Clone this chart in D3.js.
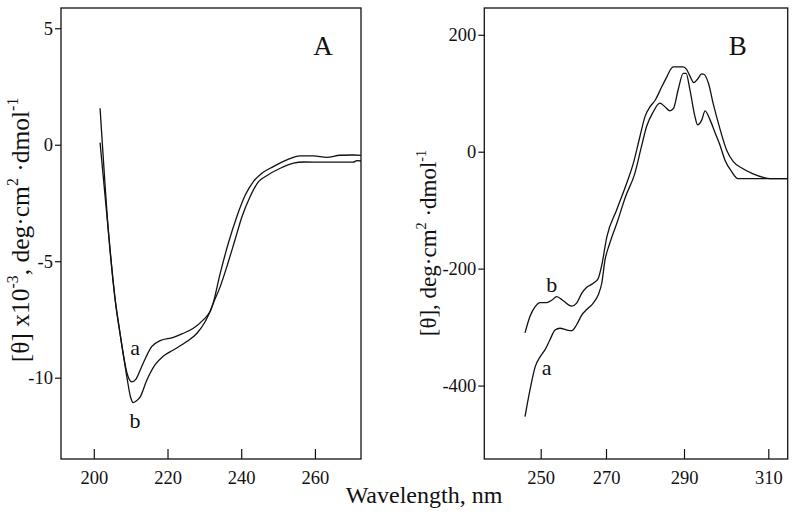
<!DOCTYPE html>
<html>
<head>
<meta charset="utf-8">
<script src="https://cdn.jsdelivr.net/npm/d3@7"></script>
<style>
body { margin: 0; background: #fff; }
svg { font-family: "Liberation Serif", "Times New Roman", serif; }
</style>
</head>
<body>
<svg id="chart" width="800" height="517"></svg>
<script>
// panel A (far UV), [θ] x10^-3
var wlA_a = [201.7, 204.0, 205.8, 207.1, 208.0, 209.0, 210.3, 211.5, 212.6, 214.2, 215.7, 218.0, 221.6, 223.9, 227.0, 229.7, 231.6, 232.3,
             234.3, 236.1, 238.3, 240.2, 242.4, 244.7, 246.7, 250.6, 254.2, 256.9, 262.3, 270.4, 271.4, 272.6];
var thA_a  = [0.09, -3.79, -6.66, -8.08, -9.0, -9.8, -10.18, -10.05, -9.67, -9.1, -8.67, -8.41, -8.27, -8.12, -7.88, -7.52, -7.14, -6.85,
             -6.09, -5.23, -4.09, -3.09, -2.23, -1.58, -1.35, -1.01, -0.79, -0.74, -0.75, -0.75, -0.68, -0.70];
var wlA_b = [201.7, 202.3, 204.0, 205.8, 207.1, 208.0, 209.0, 210.0, 210.7, 211.5, 212.6, 214.4, 216.6, 218.9, 221.6, 225.2, 228.0, 230.2, 232.3,
             234.3, 236.5, 238.8, 241.1, 243.3, 245.6, 248.7, 252.4, 256.0, 259.6, 263.2, 266.8, 270.4, 272.6];
var thA_b  = [1.57, 0.09, -3.79, -6.66, -8.08, -9.0, -10.0, -10.85, -11.07, -11.0, -10.82, -10.1, -9.45, -9.07, -8.81, -8.45, -8.09, -7.6, -6.85,
             -5.52, -4.23, -3.09, -2.16, -1.58, -1.22, -0.94, -0.65, -0.48, -0.48, -0.54, -0.45, -0.44, -0.46];
var ticksA_x = [200, 220, 240, 260];
var ticksA_y = [-10, -5, 0, 5];

// panel B (near UV), [θ]
var wlB_a = [245.2, 246.7, 248.3, 249.8, 251.3, 252.8, 254.4, 255.9, 258.0, 259.5, 261.0, 262.6, 264.1, 266.1, 267.6, 268.7, 269.7, 270.8,
             273.0, 275.0, 277.4, 279.1, 280.4, 282.1, 283.8, 285.1, 286.4, 287.3, 288.5, 289.8, 290.5, 291.4, 292.6, 293.2, 294.2, 295.0,
             296.2, 297.4, 298.5, 299.7, 301.3, 302.8, 307.2, 315];
var thB_a  = [-453, -408, -368, -351, -339, -322, -305, -302, -305, -306, -296, -279, -270, -259, -245, -225, -185, -160,
             -118, -77, -37, 9, 43, 68, 83, 77, 70, 74, 106, 134, 134, 106, 60, 46, 54, 70,
             54, 32, 12, -14, -34, -46, -46, -46];
var wlB_b = [245.2, 246.7, 248.3, 249.8, 251.8, 253.4, 254.9, 256.9, 259.5, 261.0, 262.6, 264.1, 266.1, 267.6, 268.7, 270.2,
             272.7, 275.3, 277.0, 278.7, 280.0, 281.3, 282.6, 284.3, 285.6, 286.8, 287.3, 289.8, 290.6, 291.5, 292.3, 293.2, 294.2, 294.8,
             295.8, 297.0, 298.5, 300.1, 301.7, 303.7, 306.4, 308.8, 310.4, 315];
var thB_b  = [-310, -282, -265, -258, -258, -254, -248, -255, -264, -259, -242, -232, -225, -217, -194, -146,
             -100, -54, -20, 26, 60, 77, 88, 111, 128, 143, 145, 145, 141, 128, 118, 124, 133, 132,
             117, 80, 40, 3, -17, -28, -38, -44, -46, -46];
var ticksB_x = [250, 270, 290, 310];
var ticksB_y = [-400, -200, 0, 200];

var svg = d3.select("#chart");
svg.append("rect").attr("width", 800).attr("height", 517).attr("fill", "#fff");

function zip(xs, ys) { return xs.map(function(x, i) { return [x, ys[i]]; }); }

function drawPanel(p) {
    var g = svg.append("g").attr("transform", "translate(" + p.left + "," + p.top + ")");
    var w = p.width, h = p.height;

    g.append("clipPath").attr("id", "clip" + p.name)
        .append("rect").attr("width", w).attr("height", h);

    // x axis, ticks pointing inward
    var xAx = g.append("g")
        .attr("transform", "translate(0," + h + ")")
        .call(d3.axisBottom(p.x).tickValues(p.ticksX).tickSize(-10).tickPadding(12).tickSizeOuter(0));
    // y axis, ticks outward
    var yAx = g.append("g")
        .call(d3.axisLeft(p.y).tickValues(p.ticksY).tickSize(6).tickPadding(2).tickSizeOuter(0)
            .tickFormat(function(d) { return String(d).replace("−", "-"); }));
    [xAx, yAx].forEach(function(ax) {
        ax.select(".domain").remove();
        ax.selectAll("line").attr("stroke", "#111").attr("stroke-width", 1.2);
        ax.selectAll("text").attr("font-size", 18.5).attr("fill", "#111")
            .attr("font-family", "Liberation Serif, Times New Roman, serif");
    });

    g.append("rect").attr("width", w).attr("height", h)
        .attr("fill", "none").attr("stroke", "#111").attr("stroke-width", 1.3);

    var line = d3.line()
        .x(function(d) { return p.x(d[0]); })
        .y(function(d) { return p.y(d[1]); })
        .curve(d3.curveMonotoneX);
    var curves = g.append("g").attr("clip-path", "url(#clip" + p.name + ")");
    p.series.forEach(function(s) {
        curves.append("path").datum(s)
            .attr("d", line)
            .attr("fill", "none").attr("stroke", "#111").attr("stroke-width", 1.3);
    });

    p.labels.forEach(function(l) {
        g.append("text").attr("x", p.x(l.x)).attr("y", p.y(l.y))
            .attr("text-anchor", "middle").attr("font-size", 22).attr("fill", "#111")
            .text(l.t);
    });

    g.append("text").attr("x", p.letterX).attr("y", 47)
        .attr("text-anchor", "middle").attr("font-size", 27).attr("fill", "#111")
        .text(p.name);
    return g;
}

var xA = d3.scaleLinear().domain([191.1, 272.5]).range([0, 300]);
var yA = d3.scaleLinear().domain([-13.49, 5.87]).range([451, 0]);
drawPanel({
    name: "A", left: 61, top: 8, width: 300, height: 451,
    x: xA, y: yA, ticksX: ticksA_x, ticksY: ticksA_y,
    series: [zip(wlA_a, thA_a), zip(wlA_b, thA_b)],
    labels: [{x: 211.2, y: -9.02, t: "a"}, {x: 211.2, y: -12.17, t: "b"}],
    letterX: 262
});

// the printed B axis is not evenly spaced, so the scale follows its tick marks
var xB = d3.scaleLinear().domain(ticksB_x).range([56.4, 121.7, 199.7, 284.0]);
var yB = d3.scaleLinear().domain([-525.6, 245.8]).range([451, 0]);
drawPanel({
    name: "B", left: 484.3, top: 8, width: 303.4, height: 451,
    x: xB, y: yB, ticksX: ticksB_x, ticksY: ticksB_y,
    series: [zip(wlB_a, thB_a), zip(wlB_b, thB_b)],
    labels: [{x: 253.4, y: -239.4, t: "b"}, {x: 251.8, y: -381.9, t: "a"}],
    letterX: 253.4
});

// axis titles
function yTitle(x, y, size, parts) {
    var t = svg.append("text")
        .attr("transform", "translate(" + x + "," + y + ") rotate(-90)")
        .attr("text-anchor", "middle").attr("font-size", size).attr("fill", "#111");
    parts.forEach(function(p) {
        var s = t.append("tspan").text(p[0]);
        if (p[1] === "sup") s.attr("font-size", size * 0.62).attr("dy", -size * 0.42);
        else if (p[1] === "back") s.attr("dy", size * 0.42);
    });
}
yTitle(29, 230, 25.5, [["[θ] x10"], ["-3", "sup"], [", deg·cm", "back"], ["2", "sup"], [" ·dmol", "back"], ["-1", "sup"]]);
yTitle(436, 243, 23, [["[θ], deg·cm"], ["2", "sup"], [" ·dmol", "back"], ["-1", "sup"]]);

svg.append("text").attr("x", 424).attr("y", 503)
    .attr("text-anchor", "middle").attr("font-size", 24).attr("fill", "#111")
    .text("Wavelength, nm");
</script>
</body>
</html>
